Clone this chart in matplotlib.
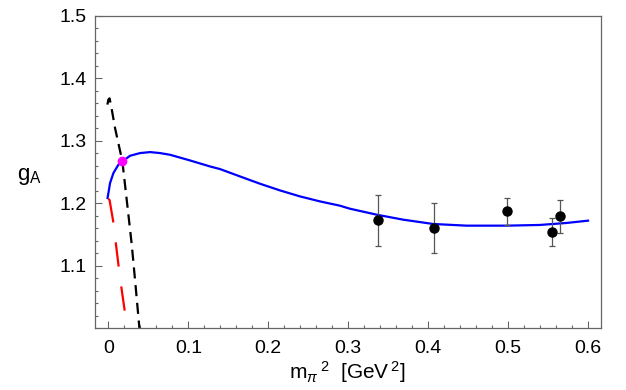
import numpy as np
import matplotlib
matplotlib.use("Agg")
import matplotlib.pyplot as plt
from matplotlib.ticker import MultipleLocator, FixedLocator

plt.rcParams["font.family"] = ["Liberation Sans", "DejaVu Sans"]
plt.rcParams["mathtext.fontset"] = "custom"
plt.rcParams["mathtext.rm"] = "Liberation Sans"
plt.rcParams["mathtext.it"] = "Liberation Sans:italic"

# blue fit curve
fit_x = [-0.001, 0.0021, 0.0063, 0.0125, 0.0175, 0.0271, 0.0396, 0.0521, 0.0646,
         0.0771, 0.1021, 0.1271, 0.1396, 0.1646, 0.1896, 0.2146, 0.2396, 0.2646,
         0.2896, 0.302, 0.3355, 0.3687, 0.4062, 0.448, 0.498, 0.5396, 0.573, 0.6]
fit_g = [1.2083, 1.2323, 1.2483, 1.2616, 1.2669, 1.276, 1.2803, 1.2819, 1.2803,
         1.2776, 1.2685, 1.2589, 1.2547, 1.2429, 1.2312, 1.2205, 1.2109, 1.2029,
         1.196, 1.1912, 1.1816, 1.1736, 1.1667, 1.164, 1.164, 1.1651, 1.1683, 1.172]

# black dashed curve
blk_x = [-0.0012, 0.0, 0.0015, 0.004, 0.0084, 0.0175, 0.025, 0.0292, 0.034, 0.0388]
blk_g = [1.358, 1.366, 1.368, 1.352, 1.32, 1.267, 1.182, 1.134, 1.068, 1.0]

# red dashed curve
red_x = [0.0, 0.0015, 0.006, 0.0146, 0.0217]
red_g = [1.207, 1.205, 1.171, 1.08, 1.016]

# lattice data
dat_x = [0.337, 0.4075, 0.499, 0.5546, 0.5654]
dat_g = [1.1725, 1.160, 1.187, 1.154, 1.179]
dat_err = [0.041, 0.040, 0.022, 0.022, 0.026]

# crossing point
cross_x = [0.0175]
cross_g = [1.267]

fig = plt.figure(figsize=(6.26, 3.9), dpi=100)
ax = fig.add_axes([0.1518, 0.159, 0.808, 0.800])

ax.plot(fit_x, fit_g, color="#0000ff", linewidth=1.6, zorder=3)
ax.plot(blk_x, blk_g, color="black", linewidth=1.6, dashes=(5, 3), zorder=2)
ax.plot(red_x, red_g, color="#ff0000", linewidth=1.6, dashes=(11, 9), zorder=2)
ax.errorbar(dat_x, dat_g, yerr=dat_err, fmt="o", color="black", markersize=6.5,
            ecolor="#555555", elinewidth=0.9, capsize=2.5, capthick=0.9, zorder=4)
ax.plot(cross_x, cross_g, "o", color="#ff00ff", markersize=6, zorder=5)

ax.set_xlim(-0.0167, 0.616)
ax.set_ylim(1.0, 1.5)
ax.xaxis.set_major_locator(FixedLocator([0, 0.1, 0.2, 0.3, 0.4, 0.5, 0.6]))
ax.xaxis.set_minor_locator(MultipleLocator(0.02))
ax.yaxis.set_major_locator(FixedLocator([1.1, 1.2, 1.3, 1.4, 1.5]))
ax.yaxis.set_minor_locator(MultipleLocator(0.02))
ax.set_xticklabels(["0", "0.1", "0.2", "0.3", "0.4", "0.5", "0.6"])
ax.set_yticklabels(["1.1", "1.2", "1.3", "1.4", "1.5"])

ax.tick_params(which="both", direction="in", colors="#666666", labelcolor="black",
               labelsize=14, width=0.8, top=False, right=False)
ax.tick_params(which="major", length=5)
ax.tick_params(which="minor", length=2.5)
ax.tick_params(axis="x", pad=9)
ax.tick_params(axis="y", pad=6)
for s in ax.spines.values():
    s.set_color("#666666")
    s.set_linewidth(0.9)

ax.set_xlabel(r"m$_\pi$$\,^2$  [GeV$\,^2$]", fontsize=15, labelpad=1)
fig.text(0.027, 0.548, r"g$_\mathregular{A}$", fontsize=16, ha="left", va="center")

fig.savefig("out.png", dpi=100)
